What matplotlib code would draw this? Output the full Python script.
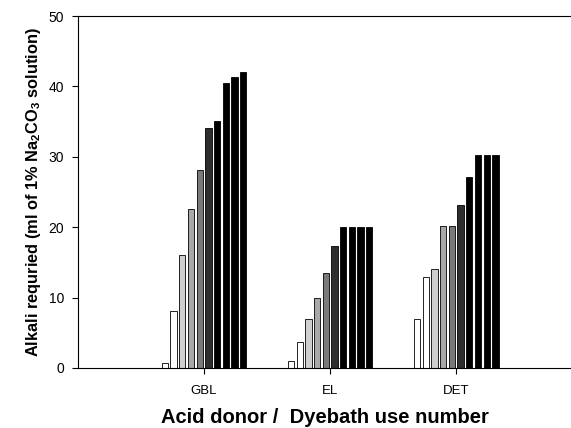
import numpy as np
import matplotlib
matplotlib.use('Agg')
import matplotlib.pyplot as plt

plt.rcParams['font.family'] = ['Liberation Sans', 'DejaVu Sans']

# Alkali needed for each dyebath reuse (uses 1-10) per acid donor
donors = ['GBL', 'EL', 'DET']
gbl = [0.75, 8.1, 16.0, 22.6, 28.1, 34.1, 35.1, 40.5, 41.3, 42.0]
el = [1.0, 3.7, 7.0, 10.0, 13.5, 17.3, 20.0, 20.0, 20.0, 20.0]
det = [7.0, 12.9, 14.1, 20.1, 20.1, 23.2, 27.1, 30.2, 30.2, 30.2]
yticks = [0, 10, 20, 30, 40, 50]

# shade of each use number, white for the first up to black for the last
shades = ['white', 'white', '#cfcfcf', '#a8a8a8', '#7a7a7a', '#2e2e2e',
          'black', 'black', 'black', 'black']

values = np.array([gbl, el, det])
n_use = values.shape[1]
slot = 0.069
width = 0.050
centers = np.arange(1, len(donors) + 1)

fig = plt.figure(figsize=(5.71, 4.28), dpi=100)
ax = fig.add_axes([0.1366, 0.1402, 0.8634, 0.8224])

for i in range(n_use):
    offs = (i - (n_use - 1) / 2) * slot
    ax.bar(centers + offs, values[:, i], width=width, color=shades[i],
           edgecolor='black', linewidth=0.6)

ax.set_xlim(0, 3.91)
ax.set_ylim(0, 50)
ax.set_xticks(centers)
ax.set_xticklabels(donors, fontsize=9.5)
ax.set_yticks(yticks)
ax.tick_params(axis='y', labelsize=10, length=4, width=0.8, pad=6)
ax.tick_params(axis='x', length=4, width=0.8, pad=8)

ax.spines['right'].set_visible(False)
for s in ['left', 'bottom', 'top']:
    ax.spines[s].set_linewidth(0.8)

ax.set_ylabel('Alkali requried (ml of 1% Na$_\\mathregular{2}$CO$_\\mathregular{3}$ solution)',
              fontsize=11.8, fontweight='bold', labelpad=4)
ax.set_xlabel('Acid donor /  Dyebath use number', fontsize=14.5,
              fontweight='bold', labelpad=8)

fig.savefig('out.png', dpi=100)
